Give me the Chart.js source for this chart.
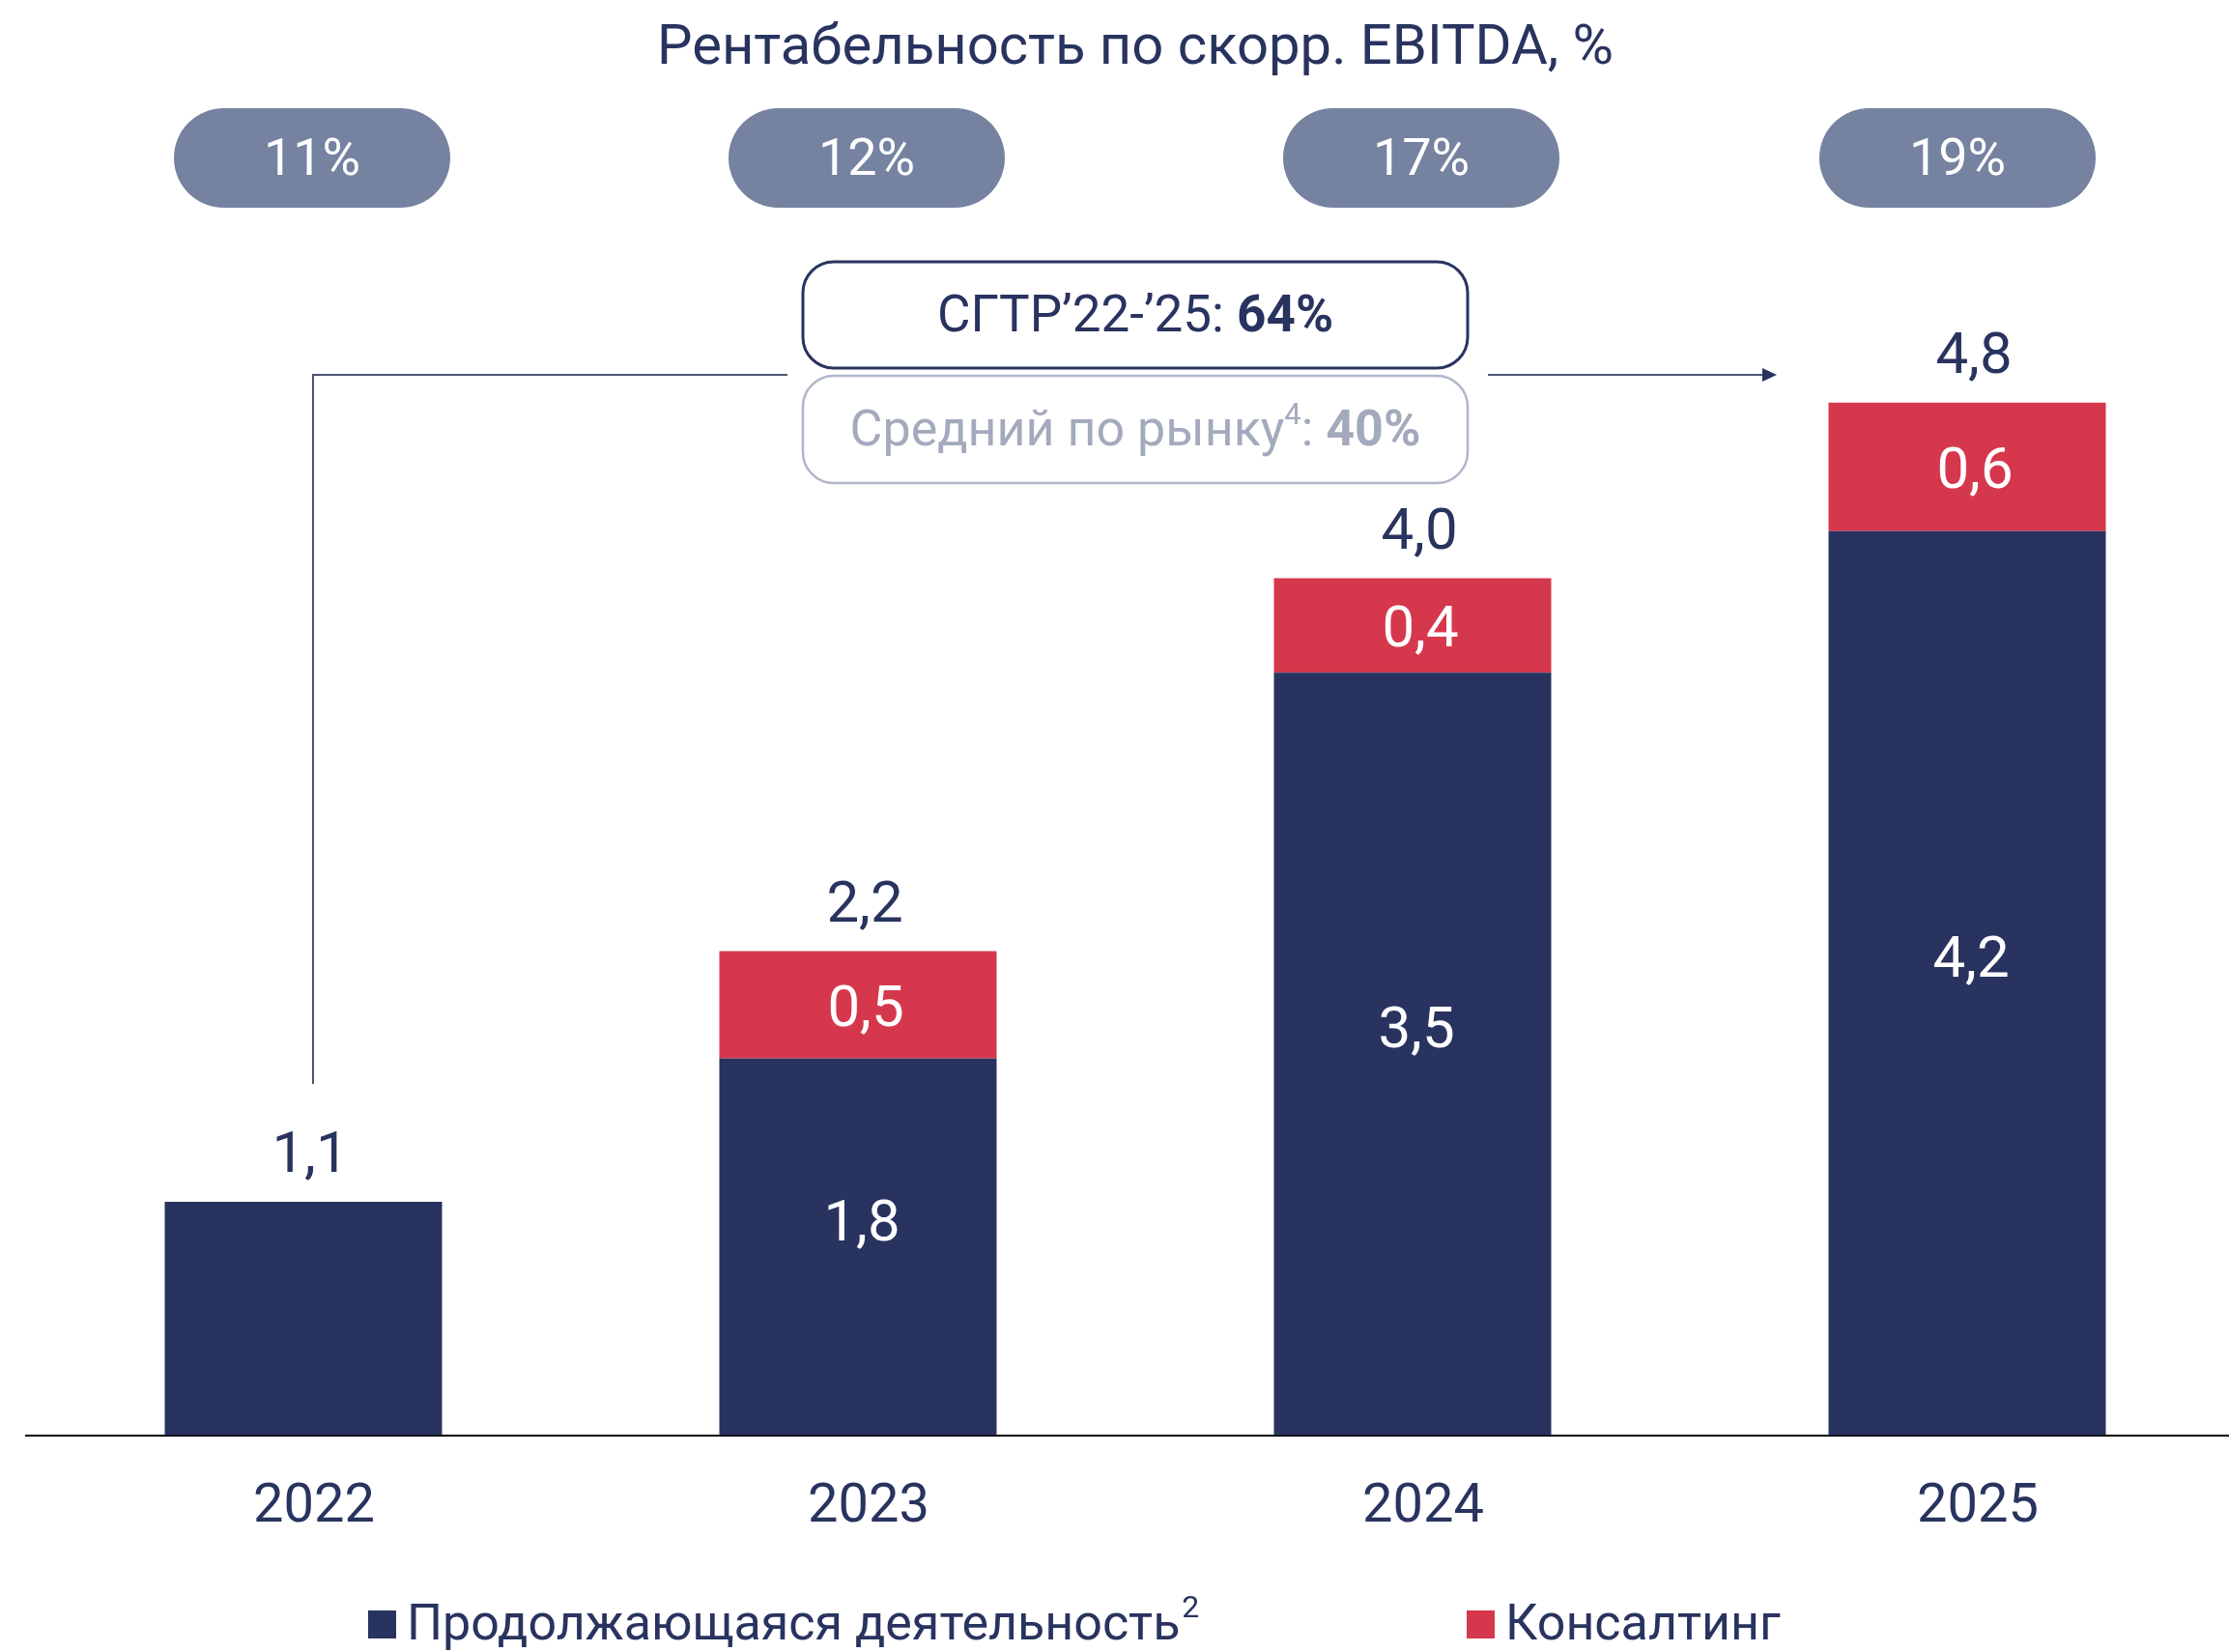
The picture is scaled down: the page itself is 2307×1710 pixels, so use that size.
<!DOCTYPE html>
<html>
<head>
<meta charset="utf-8">
<script src="https://cdn.jsdelivr.net/npm/chart.js@4.4.1/dist/chart.umd.min.js"></script>
<style>
  html, body { margin: 0; padding: 0; background: #fff; overflow: hidden; }
  #wrap { width: 2307px; height: 1710px; overflow: hidden; }
</style>
</head>
<body>
<div id="wrap"><canvas id="ebitdaChart" width="2330" height="1710"></canvas></div>
<script>
// bar heights, labels as printed on it
const years = ["2022", "2023", "2024", "2025"];
const coreValues = [1.09, 1.76, 3.56, 4.22];
const consultingValues = [null, 0.50, 0.44, 0.60];
const coreLabels = ["1,1", "1,8", "3,5", "4,2"];
const consultingLabels = [null, "0,5", "0,4", "0,6"];
const totalLabels = ["1,1", "2,2", "4,0", "4,8"];
const marginLabels = ["11%", "12%", "17%", "19%"];
const seriesNames = ["Продолжающаяся деятельность", "Консалтинг"];

const NAVY = "#29335f";
const RED = "#d5384d";
const PILL = "#7582a0";
const GREY_TEXT = "#a3aabd";
const GREY_LINE = "#b0b6c8";
const FONT = "Roboto, 'Noto Sans', sans-serif";

function roundRect(ctx, x, y, w, h, r) {
  ctx.beginPath();
  ctx.moveTo(x + r, y);
  ctx.lineTo(x + w - r, y);
  ctx.arcTo(x + w, y, x + w, y + r, r);
  ctx.lineTo(x + w, y + h - r);
  ctx.arcTo(x + w, y + h, x + w - r, y + h, r);
  ctx.lineTo(x + r, y + h);
  ctx.arcTo(x, y + h, x, y + h - r, r);
  ctx.lineTo(x, y + r);
  ctx.arcTo(x, y, x + r, y, r);
  ctx.closePath();
}

// draws a row of text pieces (mixed fonts) centered on cx
function drawPieces(ctx, pieces, cx, cy) {
  let total = 0;
  pieces.forEach((p) => { ctx.font = p.font; p.w = ctx.measureText(p.text).width; total += p.w; });
  let x = cx - total / 2;
  ctx.textAlign = "left";
  ctx.textBaseline = "middle";
  pieces.forEach((p) => {
    ctx.font = p.font;
    ctx.fillStyle = p.color;
    ctx.fillText(p.text, x, cy + (p.dy || 0));
    x += p.w;
  });
}

const decorations = {
  id: "decorations",
  afterDatasetsDraw(chart) {
    const ctx = chart.ctx;
    const core = chart.getDatasetMeta(0).data;
    const cons = chart.getDatasetMeta(1).data;
    const y = chart.scales.y;
    ctx.save();

    // values inside bars
    ctx.textAlign = "center";
    ctx.textBaseline = "middle";
    ctx.font = "400 60px " + FONT;
    ctx.fillStyle = "#fff";
    core.forEach((bar, i) => {
      if (i === 0) return;
      ctx.fillText(coreLabels[i], bar.x + 4, (bar.y + bar.base) / 2 - 22);
    });
    cons.forEach((bar, i) => {
      if (consultingValues[i] == null) return;
      ctx.fillText(consultingLabels[i], bar.x + 8, (bar.y + bar.base) / 2 + 7);
    });

    // totals above bars
    ctx.fillStyle = NAVY;
    core.forEach((bar, i) => {
      const top = consultingValues[i] == null ? bar.y : cons[i].y;
      ctx.fillText(totalLabels[i], bar.x + 7, top - 46);
    });

    // title
    const mid = (core[1].x + core[2].x) / 2;
    ctx.font = "400 58px " + FONT;
    ctx.fillText("Рентабельность по скорр. EBITDA, %", mid, 51);

    // margin pills
    core.forEach((bar, i) => {
      const w = 286, h = 103;
      const cx = bar.x + (i === 3 ? -10 : 9);
      ctx.fillStyle = PILL;
      roundRect(ctx, cx - w / 2, 112, w, h, h / 2);
      ctx.fill();
      ctx.fillStyle = "#fff";
      ctx.font = "400 54px " + FONT;
      ctx.fillText(marginLabels[i], cx, 167);
    });

    // CAGR connector
    const lineY = y.getPixelForValue(4.95);
    ctx.strokeStyle = "#4b5572";
    ctx.lineWidth = 2;
    ctx.beginPath();
    ctx.moveTo(core[0].x + 10, y.getPixelForValue(1.64));
    ctx.lineTo(core[0].x + 10, lineY);
    ctx.lineTo(mid - 360, lineY);
    ctx.moveTo(mid + 365, lineY);
    ctx.lineTo(core[3].x - 205, lineY);
    ctx.stroke();
    ctx.fillStyle = NAVY;
    ctx.beginPath();
    ctx.moveTo(core[3].x - 197, lineY);
    ctx.lineTo(core[3].x - 212, lineY - 7);
    ctx.lineTo(core[3].x - 212, lineY + 7);
    ctx.closePath();
    ctx.fill();

    // CAGR boxes
    const bw = 688;
    ctx.lineWidth = 3;
    ctx.strokeStyle = NAVY;
    ctx.fillStyle = "#fff";
    roundRect(ctx, mid - bw / 2, 271, bw, 110, 32);
    ctx.fill();
    ctx.stroke();
    drawPieces(ctx, [
      { text: "СГТР’22-’25: ", font: "400 53px " + FONT, color: NAVY },
      { text: "64%", font: "700 53px " + FONT, color: NAVY }
    ], mid, 330);

    ctx.strokeStyle = GREY_LINE;
    ctx.fillStyle = "#fff";
    ctx.lineWidth = 2.5;
    roundRect(ctx, mid - bw / 2, 389, bw, 111, 32);
    ctx.fill();
    ctx.stroke();
    drawPieces(ctx, [
      { text: "Средний по рынку", font: "400 52px " + FONT, color: GREY_TEXT },
      { text: "4", font: "400 31px " + FONT, color: GREY_TEXT, dy: -17 },
      { text: ": ", font: "400 52px " + FONT, color: GREY_TEXT },
      { text: "40%", font: "700 52px " + FONT, color: GREY_TEXT }
    ], mid, 448);

    // legend
    ctx.fillStyle = NAVY;
    ctx.fillRect(381, 1667, 29, 29);
    ctx.fillStyle = RED;
    ctx.fillRect(1518, 1667, 29, 29);
    ctx.textAlign = "left";
    ctx.textBaseline = "middle";
    ctx.font = "400 52px " + FONT;
    ctx.fillStyle = NAVY;
    ctx.fillText(seriesNames[0], 421, 1684);
    const lw = ctx.measureText(seriesNames[0]).width;
    ctx.font = "400 32px " + FONT;
    ctx.fillText("2", 421 + lw + 2, 1666);
    ctx.font = "400 52px " + FONT;
    ctx.fillText(seriesNames[1], 1558, 1684);

    ctx.restore();
  }
};

new Chart(document.getElementById("ebitdaChart").getContext("2d"), {
  type: "bar",
  data: {
    labels: years,
    datasets: [
      {
        label: seriesNames[0],
        data: coreValues,
        backgroundColor: NAVY,
        borderWidth: 0,
        barPercentage: 0.5,
        categoryPercentage: 1.0
      },
      {
        label: seriesNames[1],
        data: consultingValues,
        backgroundColor: RED,
        borderWidth: 0,
        barPercentage: 0.5,
        categoryPercentage: 1.0
      }
    ]
  },
  options: {
    responsive: false,
    animation: false,
    layout: { padding: { left: 27, right: 7, top: 155, bottom: 81 } },
    plugins: {
      legend: { display: false },
      title: { display: false },
      tooltip: { enabled: false }
    },
    scales: {
      x: {
        stacked: true,
        grid: { display: false },
        border: { display: true, color: "#000", width: 2 },
        ticks: { color: NAVY, font: { family: FONT, size: 56 }, padding: 34, labelOffset: 11 }
      },
      y: {
        stacked: true,
        display: false,
        min: 0,
        max: 6
      }
    }
  },
  plugins: [decorations]
});
</script>
</body>
</html>
